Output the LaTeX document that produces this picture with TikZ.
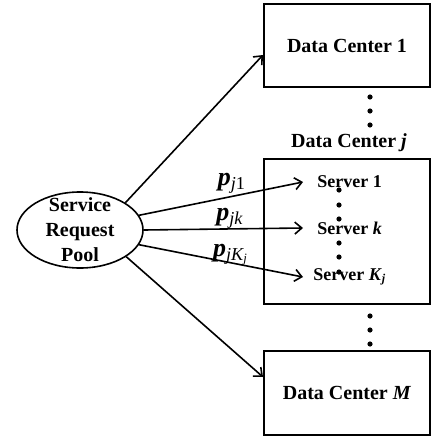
\documentclass[tikz,border=0pt]{standalone}
\usepackage{fontspec}
\setmainfont{Liberation Serif}
\usetikzlibrary{shapes.geometric,arrows.meta}

\begin{document}
\begin{tikzpicture}[x=0.5pt,y=-0.5pt,>={Straight Barb[length=3.5pt,width=6pt]},
        font=\bfseries\fontsize{10}{12.5}\selectfont,
        dcbox/.style={draw,line width=1pt,minimum width=83pt,inner sep=0pt},
        srv/.style={anchor=west,inner sep=0pt,font=\bfseries\fontsize{9}{11}\selectfont},
        prob/.style={inner sep=0pt,font=\bfseries\itshape\fontsize{13}{14}\selectfont},
        link/.style={->,line width=0.8pt}]
    \useasboundingbox (0,0) rectangle (432,439);
    \def\dotr{1.3pt}
    %===========================================
    \node[draw,ellipse,line width=0.8pt,minimum width=63pt,minimum height=38pt,inner sep=0pt] (pool) at (80,230) {};
    \node[align=center,inner sep=0pt] (pooltext) at (pool) {Service\\Request\\Pool};
    \node[dcbox,minimum height=41.5pt] (dc1) at (347,45.5) {Data Center 1};
    \node[dcbox,minimum height=72.5pt] (dcj) at (347,231.5) {};
    \node (dcjlabel) at (349,143) {Data Center \textit{j}};
    \node[dcbox,minimum height=42pt] (dcm) at (347,393) {Data Center \textit{M}};
    %===========================================
    \node[srv] (srv1) at (317,182) {Server 1};
    \node[srv] (srvk) at (317,228) {Server \textit{k}};
    \node[srv] (srvK) at (313,277) {Server \textit{K}\textsubscript{\textit{j}}};
    \foreach \y in {97,111,125,316,330,344} \fill (370,\y) circle (\dotr);
    \foreach \y in {190,205,219,243,257,272} \fill (339,\y) circle (\dotr);
    %===========================================
    \node[prob] (pj1) at (232,183) {p\textsubscript{\mdseries j\textup{1}}};
    \node[prob] (pjk) at (230,218) {p\textsubscript{\mdseries jk}};
    \node[prob] (pjK) at (231,255) {p\textsubscript{\mdseries jK\textsubscript{j}}};
    \draw[link] (pool.31) -- ([yshift=-4.75pt]dc1.west);
    \draw[link] (pool.14) -- ([xshift=-7pt]srv1.west);
    \draw[link] (pool.east) -- ([xshift=-7pt]srvk.west);
    \draw[link] (pool.-14) -- ([xshift=-5pt]srvK.west);
    \draw[link] (pool.-30) -- ([yshift=8pt]dcm.west);
\end{tikzpicture}
\end{document}
